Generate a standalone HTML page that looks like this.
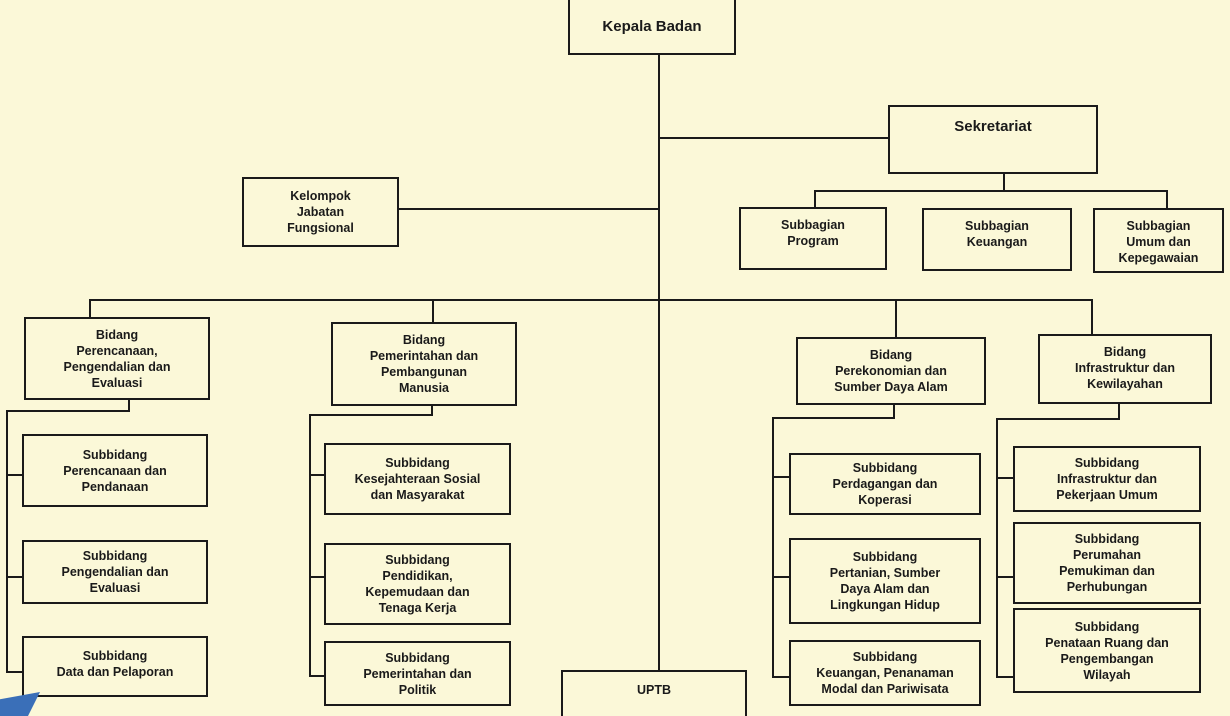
<!DOCTYPE html>
<html><head><meta charset="utf-8"><style>
html,body{margin:0;width:1230px;height:716px;overflow:hidden;}
body{background:#fbf8d8;position:relative;font-family:"Liberation Sans",Arial,sans-serif;}
.b{position:absolute;border:2px solid #1a1a1a;box-sizing:border-box;display:flex;flex-direction:column;align-items:center;justify-content:center;text-align:center;font-weight:bold;font-size:12.5px;line-height:16px;color:#1a1a1a;}
.t{justify-content:flex-start;padding-top:8px;}
.h{position:absolute;height:2px;background:#1a1a1a;}
.v{position:absolute;width:2px;background:#1a1a1a;}
</style></head><body>

<!-- Kepala -->
<div class="b" style="left:568px;top:-2px;width:168px;height:57px;font-size:15px">Kepala Badan</div>
<div class="v" style="left:658px;top:54px;height:617px"></div>

<!-- Sekretariat -->
<div class="h" style="left:658px;top:137px;width:232px"></div>
<div class="b t" style="left:888px;top:105px;width:210px;height:69px;font-size:15px;padding-top:12px">Sekretariat</div>
<div class="v" style="left:1003px;top:173px;height:18px"></div>
<div class="h" style="left:814px;top:190px;width:354px"></div>
<div class="v" style="left:814px;top:190px;height:18px"></div>
<div class="v" style="left:1166px;top:190px;height:18px"></div>
<div class="b t" style="left:739px;top:207px;width:148px;height:63px">Subbagian<br>Program</div>
<div class="b t" style="left:922px;top:208px;width:150px;height:63px">Subbagian<br>Keuangan</div>
<div class="b t" style="left:1093px;top:208px;width:131px;height:65px">Subbagian<br>Umum dan<br>Kepegawaian</div>

<!-- Kelompok -->
<div class="b" style="left:242px;top:177px;width:157px;height:70px">Kelompok<br>Jabatan<br>Fungsional</div>
<div class="h" style="left:398px;top:208px;width:260px"></div>

<!-- main horizontal -->
<div class="h" style="left:89px;top:299px;width:1004px"></div>
<div class="v" style="left:89px;top:299px;height:19px"></div>
<div class="v" style="left:432px;top:299px;height:23px"></div>
<div class="v" style="left:895px;top:299px;height:38px"></div>
<div class="v" style="left:1091px;top:299px;height:35px"></div>

<!-- Perencanaan column -->
<div class="b" style="left:24px;top:317px;width:186px;height:83px">Bidang<br>Perencanaan,<br>Pengendalian dan<br>Evaluasi</div>
<div class="v" style="left:128px;top:399px;height:12px"></div>
<div class="h" style="left:6px;top:410px;width:124px"></div>
<div class="v" style="left:6px;top:410px;height:263px"></div>
<div class="h" style="left:6px;top:474px;width:17px"></div>
<div class="h" style="left:6px;top:576px;width:17px"></div>
<div class="h" style="left:6px;top:671px;width:17px"></div>
<div class="b" style="left:22px;top:434px;width:186px;height:73px">Subbidang<br>Perencanaan dan<br>Pendanaan</div>
<div class="b" style="left:22px;top:540px;width:186px;height:64px">Subbidang<br>Pengendalian dan<br>Evaluasi</div>
<div class="b t" style="left:22px;top:636px;width:186px;height:61px;padding-top:10px">Subbidang<br>Data dan Pelaporan</div>

<!-- Pemerintahan column -->
<div class="b" style="left:331px;top:322px;width:186px;height:84px">Bidang<br>Pemerintahan dan<br>Pembangunan<br>Manusia</div>
<div class="v" style="left:431px;top:405px;height:11px"></div>
<div class="h" style="left:309px;top:414px;width:124px"></div>
<div class="v" style="left:309px;top:414px;height:263px"></div>
<div class="h" style="left:309px;top:474px;width:16px"></div>
<div class="h" style="left:309px;top:576px;width:16px"></div>
<div class="h" style="left:309px;top:675px;width:16px"></div>
<div class="b" style="left:324px;top:443px;width:187px;height:72px">Subbidang<br>Kesejahteraan Sosial<br>dan Masyarakat</div>
<div class="b" style="left:324px;top:543px;width:187px;height:82px">Subbidang<br>Pendidikan,<br>Kepemudaan dan<br>Tenaga Kerja</div>
<div class="b" style="left:324px;top:641px;width:187px;height:65px">Subbidang<br>Pemerintahan dan<br>Politik</div>

<!-- UPTB -->
<div class="b" style="left:561px;top:670px;width:186px;height:46px;border-bottom:none;justify-content:flex-start;padding-top:10px">UPTB</div>

<!-- Perekonomian column -->
<div class="b" style="left:796px;top:337px;width:190px;height:68px">Bidang<br>Perekonomian dan<br>Sumber Daya Alam</div>
<div class="v" style="left:893px;top:404px;height:14px"></div>
<div class="h" style="left:772px;top:417px;width:123px"></div>
<div class="v" style="left:772px;top:417px;height:261px"></div>
<div class="h" style="left:772px;top:476px;width:17px"></div>
<div class="h" style="left:772px;top:576px;width:17px"></div>
<div class="h" style="left:772px;top:676px;width:17px"></div>
<div class="b" style="left:789px;top:453px;width:192px;height:62px">Subbidang<br>Perdagangan dan<br>Koperasi</div>
<div class="b" style="left:789px;top:538px;width:192px;height:86px">Subbidang<br>Pertanian, Sumber<br>Daya Alam dan<br>Lingkungan Hidup</div>
<div class="b" style="left:789px;top:640px;width:192px;height:66px">Subbidang<br>Keuangan, Penanaman<br>Modal dan Pariwisata</div>

<!-- Infrastruktur column -->
<div class="b t" style="left:1038px;top:334px;width:174px;height:70px;padding-top:8px">Bidang<br>Infrastruktur dan<br>Kewilayahan</div>
<div class="v" style="left:1118px;top:403px;height:16px"></div>
<div class="h" style="left:996px;top:418px;width:124px"></div>
<div class="v" style="left:996px;top:418px;height:260px"></div>
<div class="h" style="left:996px;top:477px;width:17px"></div>
<div class="h" style="left:996px;top:576px;width:17px"></div>
<div class="h" style="left:996px;top:676px;width:17px"></div>
<div class="b" style="left:1013px;top:446px;width:188px;height:66px">Subbidang<br>Infrastruktur dan<br>Pekerjaan Umum</div>
<div class="b" style="left:1013px;top:522px;width:188px;height:82px">Subbidang<br>Perumahan<br>Pemukiman dan<br>Perhubungan</div>
<div class="b" style="left:1013px;top:608px;width:188px;height:85px">Subbidang<br>Penataan Ruang dan<br>Pengembangan<br>Wilayah</div>

<!-- blue corner -->
<div style="position:absolute;left:0;top:692px;width:40px;height:24px;background:#3a6fb8;clip-path:polygon(0 30%,100% 0,70% 100%,0 100%)"></div>
</body></html>
